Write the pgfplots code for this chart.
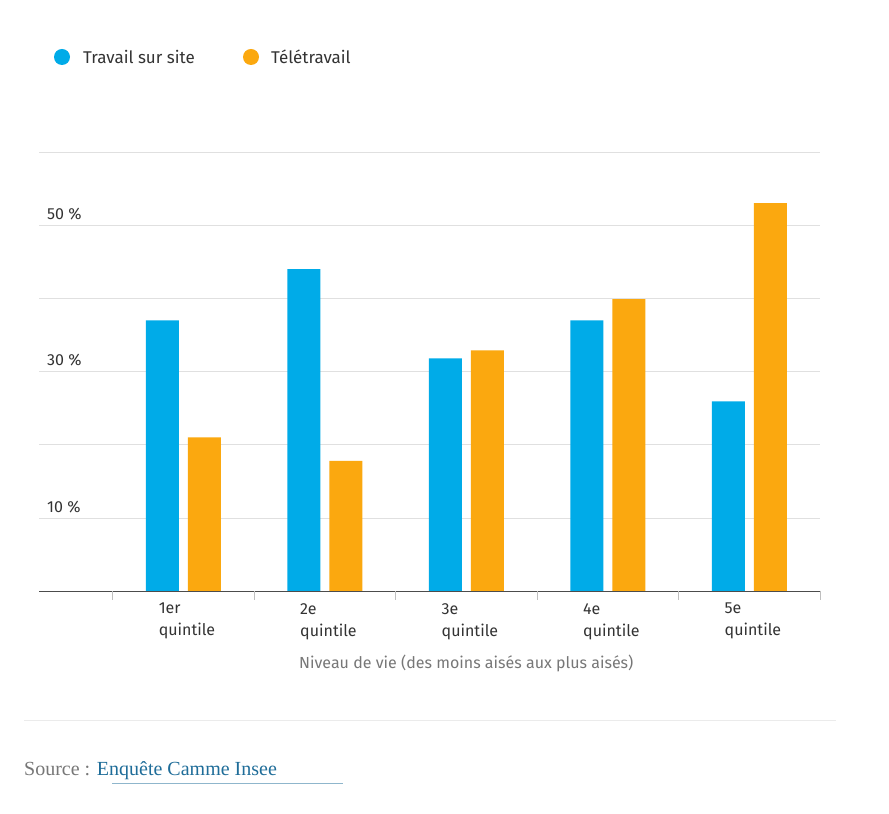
\documentclass[border=0pt]{standalone}
\usepackage{pgfplots}
\pgfplotsset{compat=1.18}
\usepackage{fontspec}
\setmainfont{Fira Sans}[Scale=1]
\newfontfamily\serif{Liberation Serif}
\definecolor{cblue}{HTML}{00ABE8}
\definecolor{corange}{HTML}{FBA80F}
\definecolor{ctext}{HTML}{333333}
\definecolor{cgrey}{HTML}{777777}
\definecolor{clink}{HTML}{1F6D99}
\begin{document}
\begin{tikzpicture}[x=1pt,y=1pt]
\path[fill=white,use as bounding box] (0,0) rectangle (889,814);
% legend
\fill[cblue] (62,757) circle (8);
\node[anchor=west,font=\fontsize{17}{20}\selectfont,text=ctext,inner sep=0] at (83,757) {Travail sur site};
\fill[corange] (251,757) circle (8);
\node[anchor=west,font=\fontsize{17}{20}\selectfont,text=ctext,inner sep=0] at (271,757) {Télétravail};
\begin{axis}[
  at={(39pt,223pt)}, anchor=south west,
  scale only axis, width=781pt, height=439pt,
  xmin=-1.02, xmax=4.5, ymin=0, ymax=60,
  axis lines=none,
  ybar, bar width=33pt,
  ytick=\empty, xtick=\empty,
  clip=false,
]
\foreach \v in {10,20,...,60}{
  \edef\tmp{\noexpand\draw[draw=black!12] (axis cs:-1.02,\v) -- (axis cs:4.5,\v);}\tmp
}
\draw[draw=black!70] (axis cs:-1.02,0) -- (axis cs:4.5,0);
\foreach \b in {-0.5,0.5,1.5,2.5,3.5,4.5}{
  \edef\tmp{\noexpand\draw[draw=black!25] (axis cs:\b,0) -- ([yshift=-9pt]axis cs:\b,0);}\tmp
}
\foreach \v in {10,30,50}{
  \edef\tmp{\noexpand\node[anchor=south west,inner sep=0,font=\noexpand\fontsize{16}{19}\noexpand\selectfont,text=ctext] at ([xshift=8pt,yshift=5pt]axis cs:-1.02,\v) {\v~\noexpand\%};}\tmp
}
\addplot[fill=cblue,draw=none,bar shift=-21pt] coordinates {(0,37.0) (1,44.0) (2,31.8) (3,37.0) (4,25.9)};
\addplot[fill=corange,draw=none,bar shift=21pt] coordinates {(0,21.0) (1,17.8) (2,32.9) (3,39.9) (4,53.0)};
\foreach \i/\a/\c in {0/1er/quintile,1/2e/quintile,2/3e/quintile,3/4e/quintile,4/5e/quintile}{
  \edef\tmp{\noexpand\node[anchor=north west,align=left,inner sep=0,font=\noexpand\fontsize{16}{22}\noexpand\selectfont,text=ctext] at ([yshift=-12pt]axis cs:\i-0.175,0) {\a\noexpand\\\c};}\tmp
}
\node[anchor=north,inner sep=0,font=\fontsize{16}{19}\selectfont,text=cgrey] at ([yshift=-64pt]axis cs:2,0) {Niveau de vie (des moins aisés aux plus aisés)};
\end{axis}
\draw[black!8] (24,94) -- (836,94);
\node[anchor=base west,inner sep=0,font=\serif\fontsize{20}{24}\selectfont,text=cgrey] at (24,38) {Source : \textcolor{clink}{Enquête Camme Insee}};
\draw[clink!50] (112,31) -- (343,31);
\end{tikzpicture}
\end{document}
